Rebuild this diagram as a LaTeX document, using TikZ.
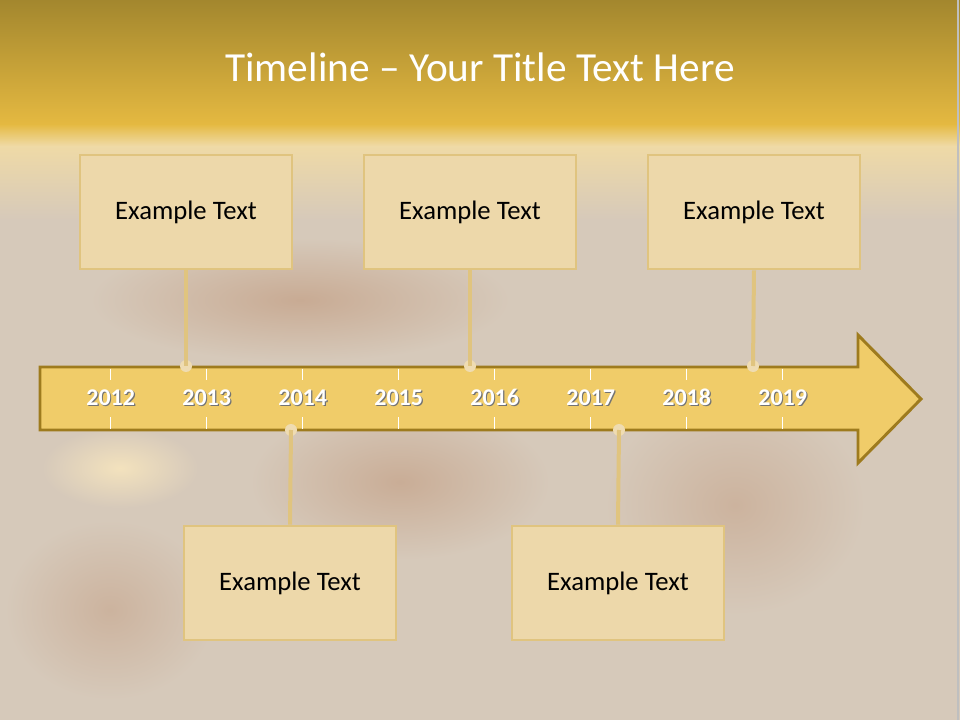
\documentclass[tikz,border=0pt]{standalone}
\usepackage{fontspec}
\setmainfont{Carlito}
\usetikzlibrary{arrows.meta}

\definecolor{bandtop}{HTML}{A3872E}
\definecolor{bandlow}{HTML}{E5B941}
\definecolor{haze}{HTML}{EFDAA6}
\definecolor{backdrop}{HTML}{D6C9BA}
\definecolor{rust}{HTML}{A8643A}
\definecolor{cream}{HTML}{F3E2BD}
\definecolor{barfill}{HTML}{F0CC69}
\definecolor{barline}{HTML}{9E7B1E}
\definecolor{boxfill}{HTML}{EDD8AA}
\definecolor{boxline}{HTML}{E0C47F}

\newcommand{\yrshadow}[1]{\makebox[0pt][l]{\hspace{0.9pt}\raisebox{-0.9pt}{\color{black!55}#1}}#1}

\begin{document}
\begin{tikzpicture}[
    x=0.75pt, y=-0.75pt,
    event box/.style={rectangle,fill=boxfill,draw=boxline,line width=2.2pt,
        minimum width=159pt,minimum height=85.5pt,inner sep=0pt,font=\fontsize{20}{24}\selectfont},
    link dot/.style={circle,fill=boxfill!90!white,inner sep=0pt,minimum size=9pt},
    link/.style={boxline,line width=3pt},
    year lbl/.style={text=white,font=\bfseries\fontsize{18}{21}\selectfont,inner sep=0pt},
    year tick/.style={white,line width=0.8pt},
    blob/.style={inner color=#1,outer color=backdrop}
]

\useasboundingbox (0,0) rectangle (960,720);

% backdrop and title band
\fill[backdrop] (0,0) rectangle (960,720);
\shade[blob=rust!30!backdrop] (300,300) ellipse (210 and 62);
\shade[blob=rust!28!backdrop] (400,482) ellipse (150 and 78);
\shade[blob=rust!22!backdrop] (735,505) ellipse (130 and 110);
\shade[blob=rust!22!backdrop] (110,610) ellipse (105 and 90);
\shade[blob=cream] (120,468) ellipse (78 and 40);
\fill[top color=haze,bottom color=backdrop] (0,145) rectangle (960,220);
\fill[top color=bandlow,bottom color=haze] (0,124) rectangle (960,146);
\fill[top color=bandtop,bottom color=bandlow] (0,0) rectangle (960,125);
\draw[black!25,line width=0.8pt] (958,0) -- (958,720);

\node[text=white,font=\fontsize{31}{36}\selectfont] (title) at (480,67) {Timeline – Your Title Text Here};

% timeline arrow
\draw[fill=barfill,draw=barline,line width=2.2pt,line join=miter]
    (40,367) -- (858,367) -- (858,335) -- (921,399) -- (858,463) -- (858,430) -- (40,430) -- cycle;

\foreach \yr [count=\i from 0] in {2012,...,2019} {
    \draw[year tick] (110.7+96*\i,368.5) -- (110.7+96*\i,380);
    \draw[year tick] (110.7+96*\i,417) -- (110.7+96*\i,428.5);
    \node[year lbl] (y\yr) at (110.7+96*\i,398) {\yrshadow{\yr}};
}

% event boxes
\node[event box] (e1) at (186,212) {\raisebox{-1.5pt}{Example Text}};
\node[event box] (e2) at (470,212) {\raisebox{-1.5pt}{Example Text}};
\node[event box] (e3) at (754,212) {\raisebox{-1.5pt}{Example Text}};
\node[event box] (e4) at (290,583) {\raisebox{-1.5pt}{Example Text}};
\node[event box] (e5) at (618,583) {\raisebox{-1.5pt}{Example Text}};

\node[link dot] (d1) at (186,366) {};
\node[link dot] (d2) at (470,366) {};
\node[link dot] (d3) at (753,366) {};
\node[link dot] (d4) at (291,430) {};
\node[link dot] (d5) at (619,430) {};

\draw[link] (e1.south) -- (d1.center);
\draw[link] (e2.south) -- (d2.center);
\draw[link] (e3.south) -- (d3.center);
\draw[link] (e4.north) -- (d4.center);
\draw[link] (e5.north) -- (d5.center);

\end{tikzpicture}
\end{document}
